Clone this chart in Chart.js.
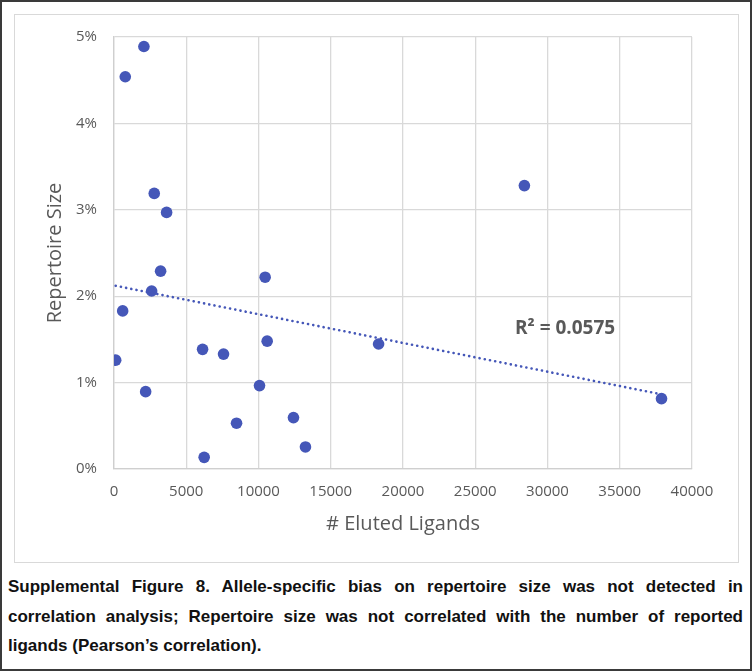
<!DOCTYPE html>
<html>
<head>
<meta charset="utf-8">
<script src="https://cdn.jsdelivr.net/npm/chart.js@4"></script>
<style>
  html, body { margin: 0; padding: 0; background: #fff; }
  #page { position: relative; width: 753px; height: 671px; overflow: hidden; }
  #outer { position: absolute; left: 0; top: 0; width: 752px; height: 671px; box-sizing: border-box; border: 2px solid #3a3a3a; }
  #inner { position: absolute; left: 14px; top: 14px; width: 725px; height: 549px; box-sizing: border-box; border: 1.5px solid #d9d9d9; }
  #grafico { position: absolute; left: 0; top: 0; }
  #r2 { position: absolute; left: 515px; top: 314px; font: bold 19px "Open Sans", sans-serif; color: #595959; white-space: nowrap; }
  #legenda { position: absolute; left: 8px; top: 572px; width: 735px; font: bold 17px "Liberation Sans", Arial, sans-serif; line-height: 29.5px; color: #111; text-align: justify; }
</style>
</head>
<body>
<div id="page">
  <div id="outer"></div>
  <div id="inner"></div>
  <canvas id="grafico" width="753" height="565"></canvas>
  <div id="r2">R² = 0.0575</div>
  <div id="legenda">Supplemental Figure 8. Allele-specific bias on repertoire size was not detected in correlation analysis; Repertoire size was not correlated with the number of reported ligands (Pearson’s correlation).</div>
</div>
<script>
// valores: nº de ligantes eluídos x tamanho do repertório (%)
const ligantes = [2070, 780, 2785, 3640, 3225, 10460, 2605, 600, 115, 6130, 7580,
  10600, 2190, 10070, 8480, 12420, 13250, 6240, 18310, 37890, 28400];
const repertorio = [4.89, 4.54, 3.19, 2.97, 2.29, 2.22, 2.06, 1.83, 1.26, 1.385, 1.33,
  1.48, 0.895, 0.965, 0.53, 0.595, 0.255, 0.135, 1.447, 0.814, 3.28];
const ticksX = [0, 5000, 10000, 15000, 20000, 25000, 30000, 35000, 40000];
const ticksY = [0, 1, 2, 3, 4, 5];

const azul = '#4557b8';
const cinza = '#595959';

// linha de tendência linear (mínimos quadrados), como a do Excel
function tendencia(xs, ys) {
  const n = xs.length;
  const mx = xs.reduce((a, b) => a + b, 0) / n;
  const my = ys.reduce((a, b) => a + b, 0) / n;
  let sxy = 0, sxx = 0;
  xs.forEach((x, i) => { sxy += (x - mx) * (ys[i] - my); sxx += (x - mx) * (x - mx); });
  const b = sxy / sxx;
  const a = my - b * mx;
  const x0 = Math.min(...xs), x1 = Math.max(...xs);
  return [{ x: x0, y: a + b * x0 }, { x: x1, y: a + b * x1 }];
}

const pontos = ligantes.map((x, i) => ({ x, y: repertorio[i] }));

new Chart(document.getElementById('grafico'), {
  type: 'scatter',
  data: {
    datasets: [
      {
        label: 'Tendência',
        data: tendencia(ligantes, repertorio),
        showLine: true,
        borderColor: azul,
        borderWidth: 2.6,
        borderDash: [0.1, 5.2],
        borderCapStyle: 'round',
        pointRadius: 0,
        order: 0
      },
      {
        label: 'Repertório',
        data: pontos,
        backgroundColor: azul,
        borderWidth: 0,
        pointRadius: 5.8,
        order: 1
      }
    ]
  },
  options: {
    responsive: false,
    animation: false,
    layout: { padding: { left: 0, top: 37, right: 61, bottom: 26 } },
    plugins: { legend: { display: false }, tooltip: { enabled: false } },
    scales: {
      x: {
        type: 'linear',
        min: 0,
        max: 40000,
        afterBuildTicks: s => { s.ticks = ticksX.map(v => ({ value: v })); },
        afterFit: s => { s.height = 70; },
        grid: { color: '#d9d9d9', lineWidth: 1.3, drawTicks: false },
        border: { color: '#cfcfcf', width: 1.3 },
        ticks: { color: cinza, padding: 14, font: { family: 'Open Sans', size: 15 }, callback: v => String(v) },
        title: { display: true, text: '# Eluted Ligands', color: cinza, font: { family: 'Open Sans', size: 20 }, padding: { top: 0, bottom: 3 } }
      },
      y: {
        type: 'linear',
        min: 0,
        max: 5,
        afterBuildTicks: s => { s.ticks = ticksY.map(v => ({ value: v })); },
        afterFit: s => { s.width = 114; },
        grid: { color: '#d9d9d9', lineWidth: 1.3, drawTicks: false },
        border: { color: '#cfcfcf', width: 1.3 },
        ticks: { color: cinza, padding: 17, font: { family: 'Open Sans', size: 15 }, callback: v => v + '%' },
        title: { display: true, text: 'Repertoire Size', color: cinza, font: { family: 'Open Sans', size: 20 }, padding: { top: 43, bottom: 0 } }
      }
    }
  }
});
</script>
</body>
</html>
